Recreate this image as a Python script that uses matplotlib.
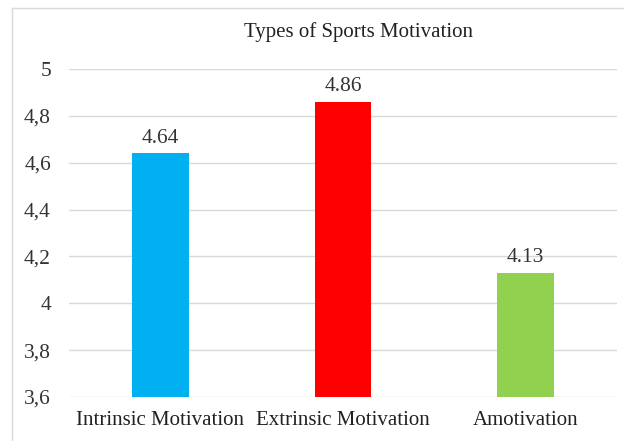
import matplotlib.pyplot as plt
from matplotlib.lines import Line2D
from matplotlib.ticker import FixedLocator

plt.rcParams['font.family'] = ['Liberation Serif', 'DejaVu Serif']

categories = ['Intrinsic Motivation', 'Extrinsic Motivation', 'Amotivation']
values = [4.64, 4.86, 4.13]
colors = ['#00B0F0', '#FF0000', '#92D050']
y_ticks = [3.6, 3.8, 4.0, 4.2, 4.4, 4.6, 4.8, 5.0]
y_tick_labels = ['3,6', '3,8', '4', '4,2', '4,4', '4,6', '4,8', '5']

fig = plt.figure(figsize=(6.24, 4.41), dpi=100)
ax = fig.add_axes([69 / 624, 44 / 441, 548 / 624, 328 / 441])

x = range(len(categories))
bars = ax.bar(x, values, width=0.31, color=colors, zorder=3)
ax.set_xlim(-0.5, len(categories) - 0.5)
ax.set_ylim(3.6, 5.0)

ax.yaxis.set_major_locator(FixedLocator(y_ticks))
ax.set_yticklabels(y_tick_labels, fontsize=15.5, color='#333333')
ax.set_xticks(list(x))
ax.set_xticklabels(categories, fontsize=15, color='#222222')
ax.tick_params(axis='both', length=0)
ax.tick_params(axis='y', pad=13)
ax.tick_params(axis='x', pad=10)

ax.grid(axis='y', color='#D9D9D9', linewidth=1, zorder=0)
for s in ax.spines.values():
    s.set_visible(False)

for b, v in zip(bars, values):
    ax.annotate(f'{v:.2f}', (b.get_x() + b.get_width() / 2, v),
                xytext=(0, 4), textcoords='offset points',
                ha='center', va='bottom', fontsize=15.5, color='#333333')

fig.text(358 / 624, 1 - 32 / 441, 'Types of Sports Motivation',
         ha='center', va='center', fontsize=15, color='#222222')

# outer chart frame
fig.add_artist(Line2D([12 / 624, 12 / 624], [0, 1 - 8 / 441],
                      transform=fig.transFigure, color='#D9D9D9', lw=1))
fig.add_artist(Line2D([12 / 624, 1], [1 - 8 / 441, 1 - 8 / 441],
                      transform=fig.transFigure, color='#D9D9D9', lw=1))

fig.savefig('out.png', dpi=100)
